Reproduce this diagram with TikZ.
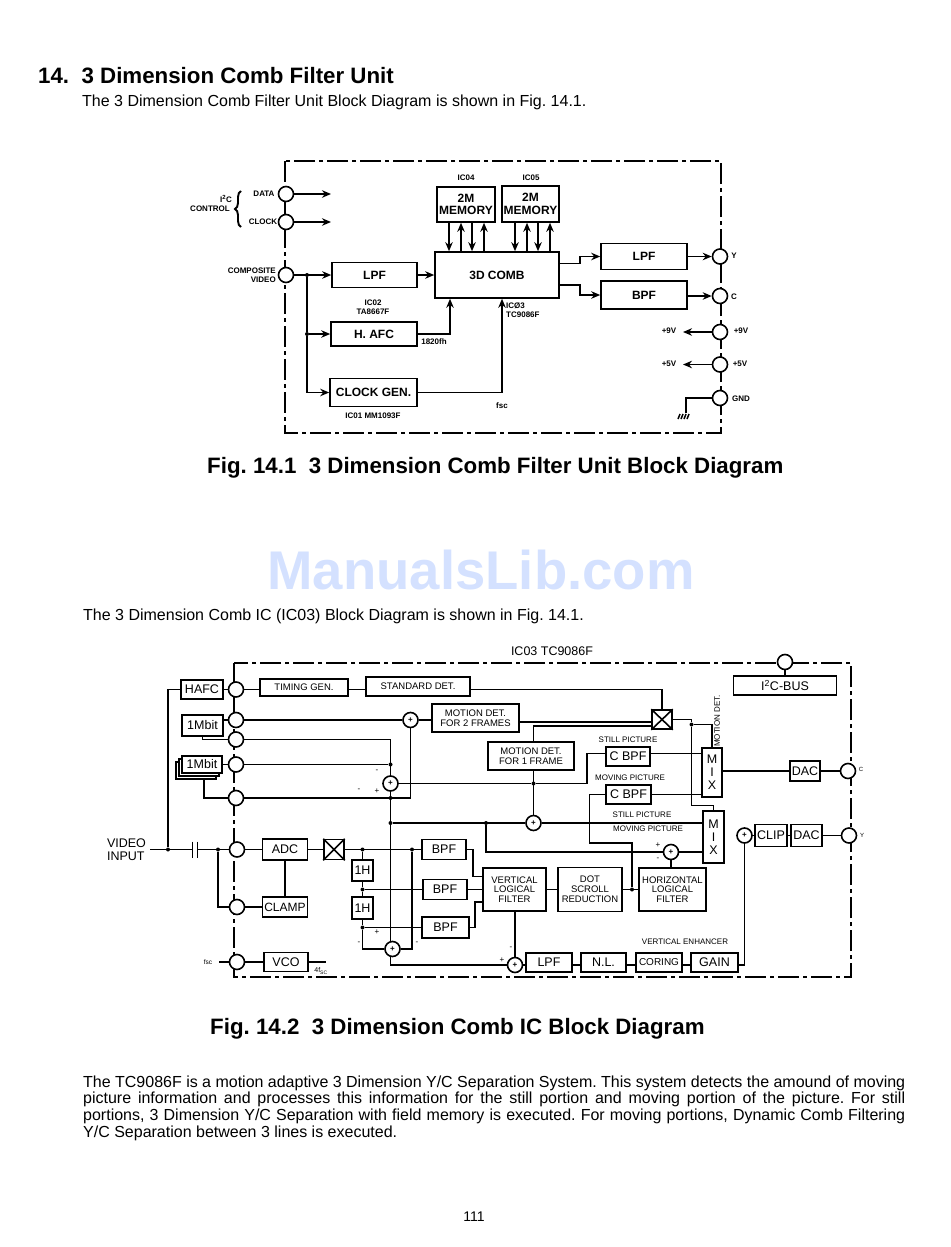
\documentclass[tikz,border=0pt]{standalone}
\usepackage{fontspec}
\setmainfont{Liberation Sans}
\usepackage{tikz}
\usetikzlibrary{arrows.meta,backgrounds,decorations.pathreplacing}

\begin{document}
\frenchspacing
\begin{tikzpicture}[x=1pt,y=-1pt]

    % Define styles
    \tikzstyle{frameline} = [line width=1.6pt, dash pattern=on 21pt off 4pt on 4pt off 4pt]
    \tikzstyle{wire} = [line width=1.5pt]
    \tikzstyle{arrow} = [line width=1.6pt,->,>={Stealth[length=9pt,width=7.5pt]}]
    \tikzstyle{blockb} = [
        rectangle, draw=black, fill=white, line width=1.6pt, inner sep=0pt, align=center,
        font=\fontsize{12}{12.5}\selectfont\bfseries
    ]
    \tikzstyle{block} = [
        rectangle, draw=black, fill=white, line width=1.5pt, inner sep=0pt, align=center,
        font=\fontsize{12.5}{13}\selectfont
    ]
    \tikzstyle{blocks} = [block, font=\fontsize{9.5}{9.8}\selectfont]
    \tikzstyle{pin} = [circle, draw=black, fill=white, line width=1.6pt, minimum size=15pt, inner sep=0pt]
    \tikzstyle{sumnode} = [pin, minimum size=15pt, font=\fontsize{8}{8}\selectfont\bfseries]
    \tikzstyle{dot} = [circle, fill=black, minimum size=4pt, inner sep=0pt]
    \tikzstyle{labb} = [inner sep=0pt, align=center, font=\fontsize{8}{8.5}\selectfont\bfseries]
    \tikzstyle{labr} = [labb, align=right, anchor=east]
    \tikzstyle{labs} = [inner sep=0pt, font=\fontsize{8}{8.5}\selectfont]
    \tikzstyle{labm} = [inner sep=0pt, align=center, font=\fontsize{12.5}{13}\selectfont]
    \tikzstyle{bodytext} = [inner sep=0pt, anchor=base west, font=\fontsize{16}{16.6}\selectfont]
    \tikzstyle{headtext} = [inner sep=0pt, anchor=base west, font=\fontsize{22.3}{24}\selectfont\bfseries]

    \useasboundingbox (0,0) rectangle (950,1247);

    % Page text
    \node[headtext] (title) at (38,84) {14.\ \ 3 Dimension Comb Filter Unit};
    \node[bodytext] (intro) at (82,106) {The 3 Dimension Comb Filter Unit Block Diagram is shown in Fig. 14.1.};
    \node[headtext] (capa) at (207,473) {Fig. 14.1\ \ 3 Dimension Comb Filter Unit Block Diagram};
    \node[inner sep=0pt, text=blue!70!cyan!17, font=\fontsize{54.5}{54.5}\selectfont\bfseries] (wmark) at (481,570) {ManualsLib.com};
    \node[bodytext] (introb) at (83,620) {The 3 Dimension Comb IC (IC03) Block Diagram is shown in Fig. 14.1.};
    \node[headtext] (capb) at (210,1034) {Fig. 14.2\ \ 3 Dimension Comb IC Block Diagram};
    \node[inner sep=0pt, anchor=north west, text width=822pt, align=justify, font=\fontsize{16}{16.6}\selectfont] (para) at (83,1075.5) {The TC9086F is a motion adaptive 3 Dimension Y/C Separation System. This system detects the amound of moving\linebreak picture information and processes this information for the still portion and moving portion of the picture. For still\linebreak portions, 3 Dimension Y/C Separation with field memory is executed. For moving portions, Dynamic Comb Filtering\linebreak Y/C Separation between 3 lines is executed.};
    \node[inner sep=0pt, font=\fontsize{14}{14}\selectfont] (pageno) at (474,1217) {111};

    % Unit frame
    \coordinate (fanw) at (285,161);
    \coordinate (fase) at (721,433);
    \draw[frameline] (fanw) rectangle (fase);

    % Unit nodes
    \node[pin] (pdata) at (286,194) {};
    \node[pin] (pclock) at (286,222) {};
    \node[pin] (pcv) at (286,275) {};
    \node[pin] (py) at (720,256.5) {};
    \node[pin] (pc) at (720,296) {};
    \node[pin] (pnine) at (720,332) {};
    \node[pin] (pfive) at (720,364.5) {};
    \node[pin] (pgnd) at (720,398) {};
    \node[blockb, minimum width=85pt, minimum height=25pt] (lpfin) at (374.5,275) {LPF};
    \node[blockb, minimum width=86pt, minimum height=24pt] (hafcu) at (374,334) {H. AFC};
    \node[blockb, minimum width=87pt, minimum height=28pt] (clkgen) at (373.5,392.5) {CLOCK GEN.};
    \node[blockb, minimum width=124pt, minimum height=46pt] (comb) at (497,275) {3D COMB};
    \node[blockb, minimum width=58pt, minimum height=35pt] (mema) at (466,204.5) {2M\\MEMORY};
    \node[blockb, minimum width=57pt, minimum height=36pt] (memb) at (530.5,204) {2M\\MEMORY};
    \node[blockb, minimum width=86pt, minimum height=26pt] (lpfout) at (644,256.5) {LPF};
    \node[blockb, minimum width=86pt, minimum height=28pt] (bpfout) at (644,295) {BPF};
    \node[dot] (dcv) at (307,275) {};
    \node[dot] (dafc) at (307,334) {};
    \coordinate (cdata) at (331,194);
    \coordinate (cclock) at (331,222);
    \coordinate (cnine) at (683,332);
    \coordinate (cfive) at (683,364.5);
    \coordinate (cgnd) at (686,413);

    % Unit labels
    \node[labb] (lbldata) at (264,194) {DATA};
    \node[labb] (lblclock) at (263,222) {CLOCK};
    \node[labb] (lbliic) at (226,199) {I\textsuperscript{2}C};
    \node[labb] (lblctrl) at (210,209) {CONTROL};
    \node[labr] (lblcv) at (276,275) {COMPOSITE\\VIDEO};
    \node[labb] (lblictwo) at (373,307) {IC02\\TA8667F};
    \node[labb] (lblicone) at (373,416) {IC01 MM1093F};
    \node[labb] (lblicfour) at (466,178) {IC04};
    \node[labb] (lblicfive) at (531,178) {IC05};
    \node[labb, anchor=west, align=left] (lblicthree) at (506,310) {ICØ3\\TC9086F};
    \node[labb] (lblfh) at (434,342) {1820fh};
    \node[labb] (lblfsc) at (502,406) {fsc};
    \node[labb] (lbly) at (734,256) {Y};
    \node[labb] (lblc) at (734,297) {C};
    \node[labb] (lblnl) at (669,331) {+9V};
    \node[labb] (lblnr) at (741,331) {+9V};
    \node[labb] (lblfl) at (669,364) {+5V};
    \node[labb] (lblfr) at (740,364) {+5V};
    \node[labb] (lblgnd) at (741,399) {GND};

    % Unit arrows
    \draw[decorate, decoration={brace,amplitude=6pt}, line width=1.9pt] (241,227) -- (241,191);
    \draw[arrow] (pdata) -- (cdata);
    \draw[arrow] (pclock) -- (cclock);
    \draw[arrow] (pcv) -- (lpfin);
    \draw[arrow] (lpfin) -- (comb);
    \draw[wire] (dcv) -- (dafc);
    \draw[arrow] (dafc) -- (hafcu);
    \draw[arrow] (dafc) |- (clkgen);
    \draw[arrow] (hafcu) -| ([xshift=-47pt]comb.south);
    \draw[arrow] (clkgen) -| ([xshift=5pt]comb.south);
    \draw[arrow] ([xshift=-17pt]mema.south) -- ([xshift=-17pt]mema.south |- comb.north);
    \draw[arrow] ([xshift=-5pt]mema.south |- comb.north) -- ([xshift=-5pt]mema.south);
    \draw[arrow] ([xshift=6pt]mema.south) -- ([xshift=6pt]mema.south |- comb.north);
    \draw[arrow] ([xshift=18pt]mema.south |- comb.north) -- ([xshift=18pt]mema.south);
    \draw[arrow] ([xshift=-15.5pt]memb.south) -- ([xshift=-15.5pt]memb.south |- comb.north);
    \draw[arrow] ([xshift=-3.5pt]memb.south |- comb.north) -- ([xshift=-3.5pt]memb.south);
    \draw[arrow] ([xshift=7.5pt]memb.south) -- ([xshift=7.5pt]memb.south |- comb.north);
    \draw[arrow] ([xshift=19.5pt]memb.south |- comb.north) -- ([xshift=19.5pt]memb.south);
    \draw[arrow] ([yshift=11.5pt]comb.east) -- ++(20,0) |- (lpfout);
    \draw[arrow] ([yshift=-10pt]comb.east) -- ++(20,0) |- (bpfout);
    \draw[arrow] (lpfout) -- (py);
    \draw[arrow] (bpfout.east |- pc) -- (pc);
    \draw[arrow] (pnine) -- (cnine);
    \draw[arrow] (pfive) -- (cfive);
    \draw[wire] (pgnd) -| (cgnd);
    \draw[wire] (cgnd) ++(-6,1) -- ++(-2,5) (cgnd) ++(-3,1) -- ++(-2,5) (cgnd) ++(0,1) -- ++(-2,5) (cgnd) ++(3,1) -- ++(-2,5);

    % IC frame
    \coordinate (fbnw) at (234,663);
    \coordinate (fbse) at (851,977);
    \draw[frameline] (fbnw) rectangle (fbse);

    % IC nodes
    \node[pin] (pbus) at (785,662) {};
    \node[pin] (phafc) at (236,689.5) {};
    \node[pin] (pbita) at (236,720) {};
    \node[pin] (pbitb) at (236,739.5) {};
    \node[pin] (pbitc) at (236,764.5) {};
    \node[pin] (pbitd) at (236,798) {};
    \node[pin] (padc) at (237,849.5) {};
    \node[pin] (pclamp) at (237,907) {};
    \node[pin] (pvco) at (237,962) {};
    \node[pin] (pcc) at (848,771) {};
    \node[pin] (pyy) at (849,835.5) {};
    \node[block, minimum width=42pt, minimum height=19pt] (hafc) at (202,689.5) {HAFC};
    \node[blocks, minimum width=88pt, minimum height=17pt] (timgen) at (304,687.5) {TIMING GEN.};
    \node[blocks, minimum width=104pt, minimum height=19pt] (stddet) at (418,686.5) {STANDARD DET.};
    \node[block, minimum width=41pt, minimum height=21pt] (mbita) at (202.5,725.5) {1Mbit};
    \node[block, minimum width=40pt, minimum height=17pt] (mbitd) at (196,770.5) {};
    \node[block, minimum width=40pt, minimum height=17pt] (mbitc) at (199,767.5) {};
    \node[block, minimum width=40pt, minimum height=17pt] (mbitb) at (202,764.5) {1Mbit};
    \node[blocks, minimum width=87pt, minimum height=28pt] (motiona) at (475.5,718) {MOTION DET.\\FOR 2 FRAMES};
    \node[blocks, minimum width=86pt, minimum height=28pt] (motionb) at (531,756) {MOTION DET.\\FOR 1 FRAME};
    \node[block, minimum width=20pt, minimum height=19pt] (xb) at (662,719.5) {};
    \node[block, minimum width=44pt, minimum height=19pt] (cbpfa) at (628,756.5) {C BPF};
    \node[block, minimum width=45pt, minimum height=19pt] (cbpfb) at (628.5,794.5) {C BPF};
    \node[block, minimum width=20pt, minimum height=49pt] (mixa) at (712,772.5) {M\\I\\X};
    \node[block, minimum width=21pt, minimum height=52pt] (mixb) at (713.5,837) {M\\I\\X};
    \node[block, minimum width=103pt, minimum height=19pt] (bus) at (785,685.5) {I\textsuperscript{2}C-BUS};
    \node[block, minimum width=30pt, minimum height=20pt] (dacc) at (805,771) {DAC};
    \node[block, minimum width=31pt, minimum height=22pt] (dacy) at (806.5,835.5) {DAC};
    \node[block, minimum width=32pt, minimum height=22pt] (clip) at (771,835.5) {CLIP};
    \node[block, minimum width=45pt, minimum height=21pt] (adc) at (285,849.5) {ADC};
    \node[block, minimum width=20pt, minimum height=20pt] (xa) at (334,849.5) {};
    \node[block, minimum width=45pt, minimum height=20pt, font=\fontsize{12}{12}\selectfont] (clamp) at (285,907) {CLAMP};
    \node[block, minimum width=44pt, minimum height=19pt] (vco) at (286,962) {VCO};
    \node[block, minimum width=21pt, minimum height=21pt] (onehb) at (362.5,870.5) {1H};
    \node[block, minimum width=21pt, minimum height=22pt] (onehc) at (362.5,908) {1H};
    \node[block, minimum width=44pt, minimum height=20pt] (bpfa) at (444,849.5) {BPF};
    \node[block, minimum width=44pt, minimum height=20pt] (bpfb) at (445,889.5) {BPF};
    \node[block, minimum width=47pt, minimum height=21pt] (bpfc) at (445.5,927.5) {BPF};
    \node[blocks, minimum width=63pt, minimum height=43pt] (vlf) at (514.5,889.5) {VERTICAL\\LOGICAL\\FILTER};
    \node[blocks, minimum width=64pt, minimum height=44pt] (dsr) at (590,889.5) {DOT\\SCROLL\\REDUCTION};
    \node[blocks, minimum width=67pt, minimum height=43pt] (hlf) at (672.5,889.5) {HORIZONTAL\\LOGICAL\\FILTER};
    \node[block, minimum width=46pt, minimum height=19pt] (lpfv) at (549,962.5) {LPF};
    \node[block, minimum width=45pt, minimum height=19pt] (nl) at (603.5,962.5) {N.L.};
    \node[block, minimum width=46pt, minimum height=19pt, font=\fontsize{10}{10}\selectfont] (coring) at (659,962.5) {CORING};
    \node[block, minimum width=47pt, minimum height=19pt] (gain) at (714.5,962.5) {GAIN};
    \node[sumnode] (suma) at (410.5,720) {+};
    \node[sumnode] (sumc) at (390.5,783.5) {+};
    \node[sumnode] (sumd) at (533.5,823) {+};
    \node[sumnode] (sume) at (671,852) {+};
    \node[sumnode] (sumf) at (392.5,949) {+};
    \node[sumnode] (sumb) at (515,965) {+};
    \node[sumnode] (sumy) at (744.5,835.5) {+};
    \node[dot] (dvid) at (168,849.5) {};
    \node[dot] (dclamp) at (218,849.5) {};
    \node[dot] (dbitc) at (390.5,764.5) {};
    \node[dot] (dbitd) at (390.5,798) {};
    \node[dot] (dmain) at (390.5,823) {};
    \node[dot] (dsub) at (486,823) {};
    \node[dot] (dsum) at (533.5,783.5) {};
    \node[dot] (dhone) at (362.5,849.5) {};
    \node[dot] (dhtwo) at (362.5,889.5) {};
    \node[dot] (dhthree) at (362.5,927.5) {};
    \node[dot] (dbpf) at (412,849.5) {};
    \node[dot] (dhlf) at (632,889.5) {};
    \node[dot] (dmix) at (691.5,724.5) {};
    \coordinate (cvin) at (150,849.5);
    \coordinate (capl) at (192.3,849.5);
    \coordinate (capr) at (197.7,849.5);
    \coordinate (cfsc) at (219,962);
    \coordinate (cfour) at (326,962);
    \coordinate (cbend) at (632,843);

    % IC labels
    \node[labm] (lblic) at (552,651) {IC03 TC9086F};
    \node[labm, align=left] (lblvid) at (126.5,849.5) {VIDEO\\INPUT};
    \node[labs, font=\fontsize{6.5}{7}\selectfont] (lblfscb) at (208,962) {fsc};
    \node[labs, font=\fontsize{7}{7}\selectfont] (lblfour) at (321,971) {4f\textsubscript{SC}};
    \node[labs] (lblstilla) at (628,740) {STILL PICTURE};
    \node[labs] (lblmova) at (630,778) {MOVING PICTURE};
    \node[labs] (lblstillb) at (642,815) {STILL PICTURE};
    \node[labs] (lblmovb) at (648,829) {MOVING PICTURE};
    \node[labs] (lblvert) at (685,942) {VERTICAL ENHANCER};
    \node[labs, rotate=90] (lblmot) at (717,721) {MOTION DET.};
    \node[labs, text=black] (lblca) at (861,769) {\fontsize{6}{6}\selectfont C};
    \node[labs, text=black] (lblya) at (862,835) {\fontsize{6}{6}\selectfont Y};
    \node[labs] (msa) at (377,771) {-};
    \node[labs] (msb) at (359,790) {-};
    \node[labs] (psa) at (377,791) {+};
    \node[labs] (psb) at (377,932) {+};
    \node[labs] (msc) at (359,943) {-};
    \node[labs] (msd) at (417,943) {-};
    \node[labs] (mse) at (511,948) {-};
    \node[labs] (psc) at (502,960) {+};
    \node[labs] (psd) at (658,845) {+};
    \node[labs] (msf) at (658,859) {-};

    % IC arrows
    \draw[wire] (pbus) -- (bus);
    \draw[wire] (cvin) -- (capl);
    \draw[wire] (capr) -- (padc);
    \draw[wire] ([yshift=8pt]capl) -- ([yshift=-8pt]capl);
    \draw[wire] ([yshift=8pt]capr) -- ([yshift=-8pt]capr);
    \draw[wire] (dvid) |- (hafc);
    \draw[wire] (hafc) -- (phafc);
    \draw[wire] (phafc) -- (phafc -| timgen.west);
    \draw[wire] (timgen.east |- phafc) -- (stddet.west |- phafc);
    \draw[wire] (stddet.east |- phafc) -| (xb);
    \draw[wire] (dclamp) |- (pclamp);
    \draw[wire] (pclamp) -- (clamp);
    \draw[wire] (padc) -- (adc);
    \draw[wire] (adc) -- (clamp);
    \draw[wire] (adc) -- (xa);
    \draw[wire] (xa) -- (bpfa);
    \draw[wire] (cfsc) -- (pvco);
    \draw[wire] (pvco) -- (vco);
    \draw[wire] (vco) -- (cfour);
    \draw[wire] (pbita) -- (pbita -| mbita.east);
    \draw[wire] (mbita.south) |- (pbitb);
    \draw[wire] (pbitc) -- (mbitb);
    \draw[wire] ([xshift=8pt]mbitd.south) |- (pbitd);
    \draw[wire] (pbita) -- (suma);
    \draw[wire] (suma) -- (suma -| motiona.west);
    \draw[wire] ([yshift=-4pt]motiona.east) -- ([yshift=-4pt]motiona.east -| xb.west);
    \draw[wire] (pbitb) -| (sumc);
    \draw[wire] (pbitc) -- (dbitc);
    \draw[wire] (pbitd) -| (suma);
    \draw[wire] (sumc) -- (dmain);
    \begin{scope}[on background layer]
        \draw[wire] (dmain) |- (sumb);
    \end{scope}
    \draw[wire] (sumc) -- (dsum);
    \draw[wire] (dsum) -- ++(53.5,0) |- ([yshift=3pt]cbpfa.west);
    \draw[wire] ([yshift=3pt]cbpfa.east) -- ([yshift=3pt]cbpfa.east -| mixa.west);
    \draw[wire] (sumd |- motionb.south) -- (sumd);
    \draw[wire] (sumd |- motionb.north) |- ([yshift=-6.5pt]xb.west);
    \draw[wire] (dmain) -- (sumd);
    \draw[wire] (sumd) -- (sumd -| mixb.west);
    \draw[wire] (dsub) |- (sume);
    \draw[wire] (sume) -- (sume -| mixb.west);
    \draw[wire] (sume) -- (sume |- hlf.north);
    \draw[wire] (cbpfb) -- (cbpfb -| mixa.west);
    \draw[wire] (cbpfb.west) -- ++(-16,0) |- (cbend) -- (dhlf);
    \draw[wire] (xb.east) -| (dmix);
    \draw[wire] (dmix) -| (mixa.north);
    \draw[wire] (dmix) -- ++(0,81) -| (mixb.north);
    \draw[wire] (mixa.east |- dacc) -- (dacc);
    \draw[wire] (dacc) -- (pcc);
    \draw[wire] (sumy) -- (clip);
    \draw[wire] (clip) -- (dacy);
    \draw[wire] (dacy) -- (pyy);
    \draw[wire] (dhone) -- (onehb);
    \draw[wire] (onehb) -- (dhtwo);
    \draw[wire] (dhtwo) -- (onehc);
    \draw[wire] (onehc) -- (dhthree);
    \draw[wire] (dhtwo) -- (bpfb);
    \draw[wire] (dhthree) -- (bpfc);
    \draw[wire] (dhthree) |- (sumf);
    \draw[wire] (dbpf) |- (sumf);
    \draw[wire] (bpfa) -- ++(29,0) |- ([yshift=13pt]vlf.west);
    \draw[wire] (bpfb) -- (vlf);
    \draw[wire] (bpfc) -- ++(29.5,0) |- ([yshift=-12.5pt]vlf.west);
    \draw[wire] (vlf) -- (dsr);
    \draw[wire] (dsr) -- (hlf);
    \draw[wire] (vlf.south -| sumb) -- (sumb);
    \draw[wire] (sumb) -- (sumb -| lpfv.west);
    \draw[wire] (lpfv.east |- sumb) -- (nl.west |- sumb);
    \draw[wire] (nl.east |- sumb) -- (coring.west |- sumb);
    \draw[wire] (coring.east |- sumb) -- (gain.west |- sumb);
    \draw[wire] (gain.east |- sumb) -| (sumy);

    % Crossed boxes
    \draw[line width=1.6pt] (xa.north west) -- (xa.south east) (xa.north east) -- (xa.south west);
    \draw[line width=1.6pt] (xb.north west) -- (xb.south east) (xb.north east) -- (xb.south west);

\end{tikzpicture}
\end{document}
